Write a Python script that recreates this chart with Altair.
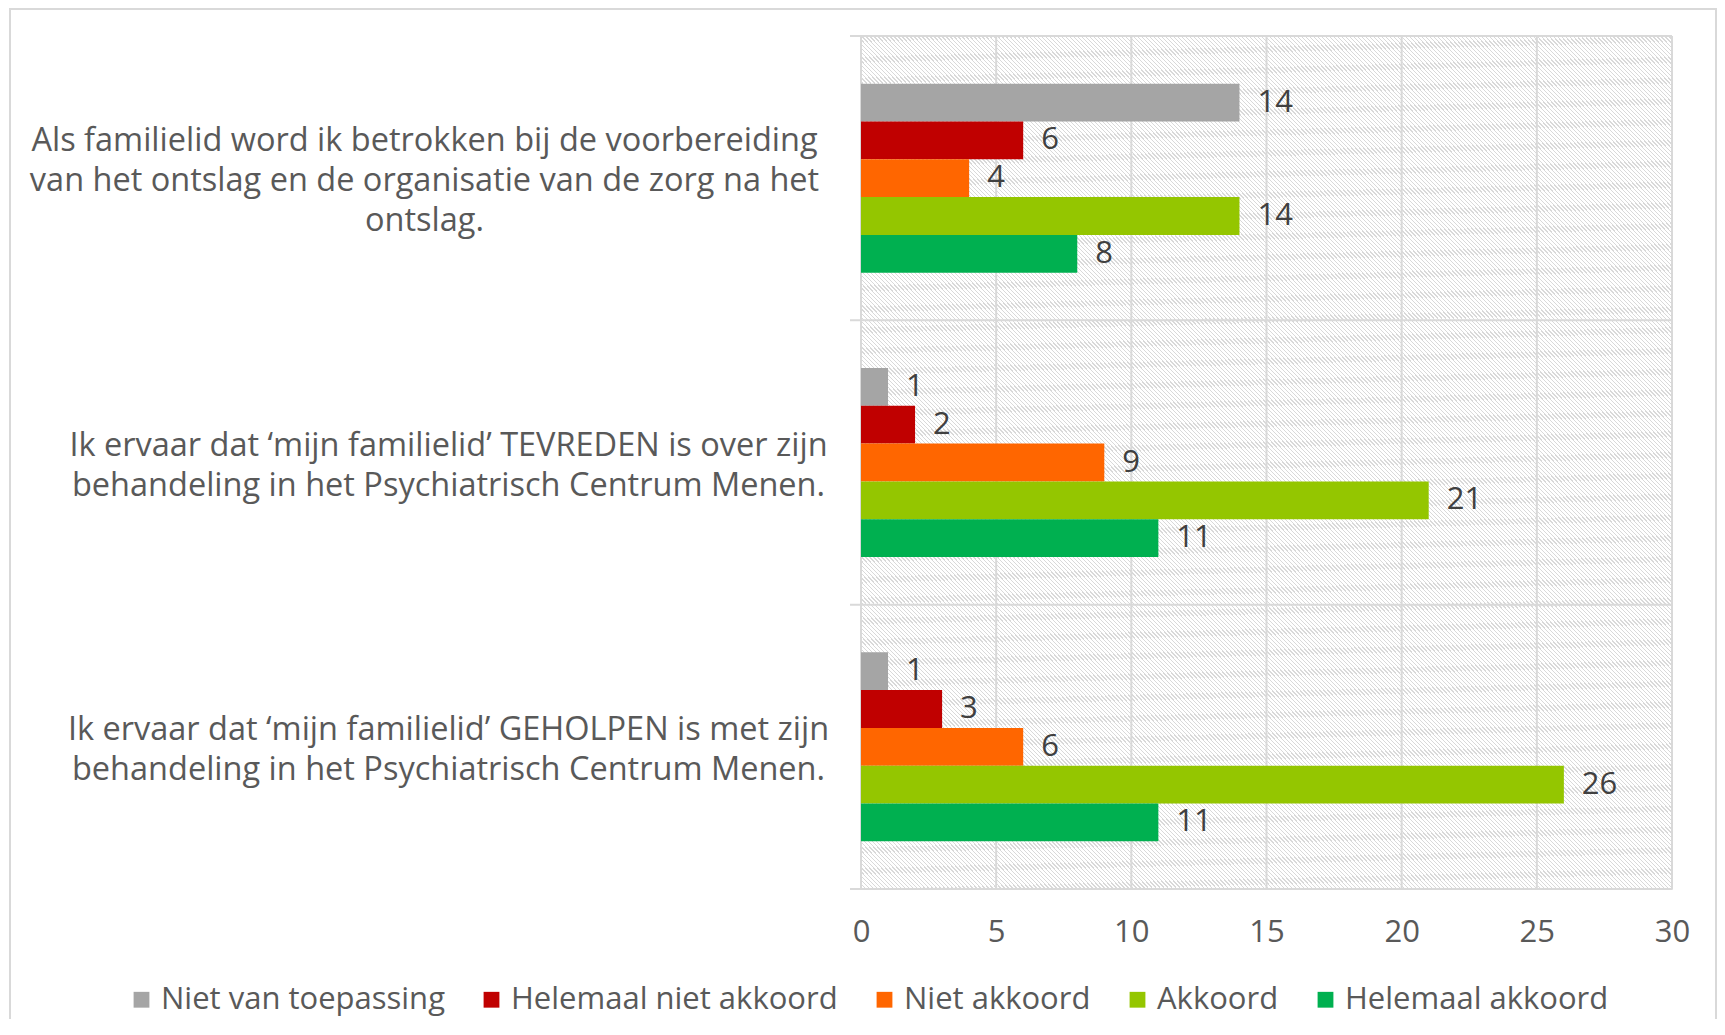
import altair as alt
import pandas as pd

questions = [
    "Als familielid word ik betrokken bij de voorbereiding\nvan het ontslag en de organisatie van de zorg na het\nontslag.",
    "Ik ervaar dat \u2018mijn familielid\u2019 TEVREDEN is over zijn\nbehandeling in het Psychiatrisch Centrum Menen.",
    "Ik ervaar dat \u2018mijn familielid\u2019 GEHOLPEN is met zijn\nbehandeling in het Psychiatrisch Centrum Menen.",
]
responses = ["Niet van toepassing", "Helemaal niet akkoord", "Niet akkoord", "Akkoord", "Helemaal akkoord"]
colors = ["#a5a5a5", "#c00000", "#ff6600", "#94c600", "#00b050"]
values_q1 = [14, 6, 4, 14, 8]
values_q2 = [1, 2, 9, 21, 11]
values_q3 = [1, 3, 6, 26, 11]
x_ticks = [0, 5, 10, 15, 20, 25, 30]

rows = []
for q, vals in zip(questions, [values_q1, values_q2, values_q3]):
    for r, v in zip(responses, vals):
        rows.append({"q": q, "r": r, "v": v})
df = pd.DataFrame(rows)
qdf = pd.DataFrame({"q": questions})
tdf = pd.DataFrame({"t": x_ticks})
one = pd.DataFrame({"a": [0]})

FONT = "Open Sans"
FS = 31
YFS = 32.5
GRID = "#d9d9d9"
W, H = 811, 853
P = 0.335
STEP = H / 3.0
HALF_GAP = P * STEP / 2.0
LH = 40

# diagonal hatch via a striped linear gradient
N = 406
f = 0.32
hatch = "#d9d9d9"
stops = []
for i in range(N):
    a = round(i / N, 6)
    b = round((i + f) / N, 6)
    c = round((i + 1) / N, 6)
    stops += [
        {"offset": a, "color": hatch},
        {"offset": b, "color": hatch},
        {"offset": b, "color": "#ffffff"},
        {"offset": c, "color": "#ffffff"},
    ]
gradient = {"gradient": "linear", "x1": 0, "y1": 1, "x2": 1, "y2": 0, "stops": stops}

ysc = alt.Scale(domain=questions, paddingInner=P, paddingOuter=P / 2)
xsc = alt.Scale(domain=[0, 30], nice=False)

frame = alt.Chart(one).mark_rect(filled=False, color=GRID, strokeWidth=2).encode(
    x=alt.value(-851), x2=alt.value(855), y=alt.value(-27), y2=alt.value(1200)
)

bg = alt.Chart(one).mark_rect(fill=gradient, strokeWidth=0).encode(
    x=alt.value(0), x2=alt.value("width"), y=alt.value(0), y2=alt.value("height")
)

vgrid = alt.Chart(tdf).mark_rule(color=GRID, strokeWidth=2).encode(
    x=alt.X("t:Q", scale=xsc, title=None,
            axis=alt.Axis(values=x_ticks, grid=False, domain=False, ticks=False,
                          labelFlush=False,
                          labelFont=FONT, labelFontSize=FS, labelColor="#595959",
                          labelPadding=43, labelBaseline="middle")),
    y=alt.value(0), y2=alt.value("height"),
)

hgrid = alt.Chart(qdf).mark_rule(color=GRID, strokeWidth=2, yOffset=-HALF_GAP).encode(
    y=alt.Y("q:N", scale=ysc, sort=questions, bandPosition=0, title=None),
    x=alt.value(-11), x2=alt.value("width"),
)

bottom = alt.Chart(one).mark_rule(color=GRID, strokeWidth=2).encode(
    y=alt.value("height"), x=alt.value(-11), x2=alt.value("width")
)

three_lines = "length(split(datum.value, '\\n')) > 2"

base = alt.Chart(df).encode(
    y=alt.Y("q:N", scale=ysc, sort=questions, title=None,
            axis=alt.Axis(domain=False, ticks=False, tickSize=0, grid=False,
                          labelExpr="split(datum.label, '\\n')",
                          labelAlign="center", labelBaseline="middle",
                          labelOffset={"condition": {"test": three_lines, "value": -LH + 3}, "value": -LH / 2 + 3},
                          labelPadding={"condition": {"test": three_lines, "value": 437}, "value": 413},
                          labelFont=FONT, labelFontSize=YFS,
                          labelLineHeight=LH, labelColor="#595959", labelLimit=1000)),
    yOffset=alt.YOffset("r:N", sort=responses,
                        scale=alt.Scale(domain=responses, paddingInner=0, paddingOuter=0)),
    x=alt.X("v:Q", scale=xsc, title=None),
)

bars = base.mark_bar(strokeWidth=0).encode(
    color=alt.Color("r:N", scale=alt.Scale(domain=responses, range=colors),
                    legend=alt.Legend(title=None, orient="none", direction="horizontal",
                                      columns=5, legendX=-735, legendY=948,
                                      symbolType="square", symbolSize=250,
                                      symbolStrokeWidth=0, labelFont=FONT,
                                      labelFontSize=FS, labelColor="#595959",
                                      labelOffset=4, columnPadding=31, padding=0,
                                      labelLimit=600))
)

labels = base.mark_text(align="left", baseline="middle", dx=18, font=FONT,
                        fontSize=FS, color="#404040").encode(text=alt.Text("v:Q"))

chart = alt.layer(frame, bg, vgrid, hgrid, bottom, bars, labels).properties(
    width=W, height=H,
    autosize=alt.AutoSizeParams(type="none"),
    padding={"left": 853, "top": 28, "right": 45, "bottom": 130},
).configure_view(stroke=None).configure(background="#ffffff")

chart.save("out.html", embed_options={"renderer": "svg", "actions": False})
